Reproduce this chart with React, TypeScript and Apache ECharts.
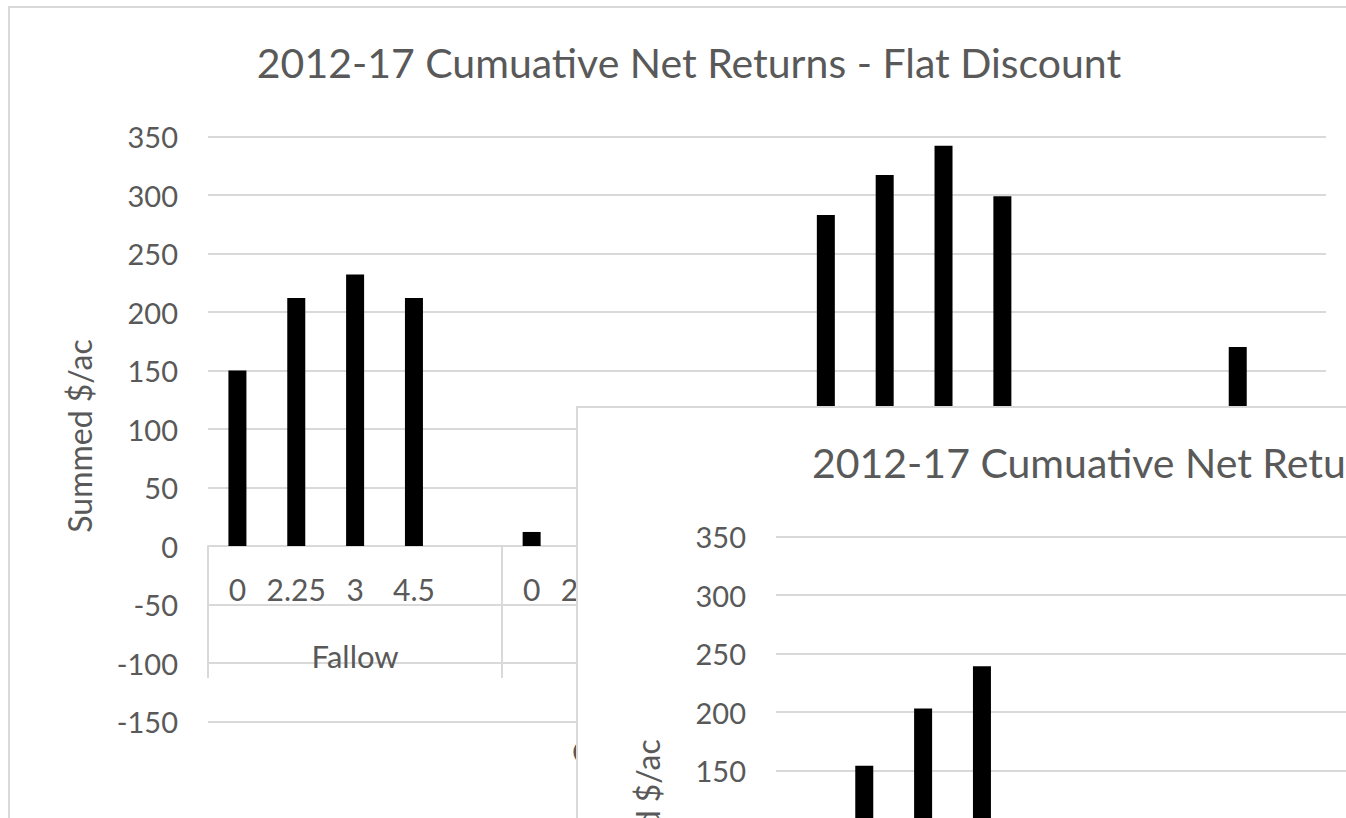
import React, { useEffect, useRef } from "react";
import * as echarts from "echarts";

// ---------- data ----------
// 19 category slots: 4 rates per group, with an empty slot between groups
const categories = [
  "0", "2.25", "3", "4.5", "",
  "0", "2.25", "3", "4.5", "",
  "0", "2.25", "3", "4.5", "",
  "0", "2.25", "3", "4.5",
];
// Only the first group name is visible; the others are hidden by the overlapping chart
const groupNames = ["Fallow"];
// Outer chart (Flat Discount). null = bar hidden behind the overlapping chart, value not readable
const flatDiscountValues = [
  150, 212, 232, 212, null,
  12, null, null, null, null,
  283, 317, 342, 299, null,
  null, null, 170, null,
];
// Overlapping chart: only three bars are visible
const insetValues = [
  null, 154, 203, 239, null,
  null, null, null, null, null,
  null, null, null, null, null,
  null, null, null, null,
];
const yMin = -150;
const yMax = 350;
const yStep = 50;
const outerTitle = "2012-17 Cumuative Net Returns - Flat Discount";
const insetTitle = "2012-17 Cumuative Net Returns";
const yAxisTitle = "Summed $/ac";
const xAxisTitleVisible = "C";
// how many category labels of the outer chart are not covered by the overlapping chart
const outerVisibleLabelCount = 7;
// lowest y tick label of the overlapping chart that is inside the page
const insetLowestVisibleTick = 150;

// ---------- style ----------
const FONT = "Lato, 'Open Sans', sans-serif";
const TEXT = "#595959";
const GRID = "#d9d9d9";
const GRID_LEFT = 208;
const GRID_TOP = 136.5;
const GRID_W = 1118;
const GRID_H = 585;

function buildOption(values: (number | null)[], inset: boolean) {
  const slot = GRID_W / categories.length;
  const zeroOffset = (GRID_H * (0 - yMin)) / (yMax - yMin);
  const graphic: any[] = [
    {
      type: "rect",
      z: -10,
      silent: true,
      shape: { x: 9, y: 7, width: 2000, height: 1500 },
      style: { fill: "#ffffff", stroke: GRID, lineWidth: 2 },
    },
    {
      type: "text",
      z: 10,
      x: inset ? 244 : 689,
      y: 62,
      style: {
        text: inset ? insetTitle : outerTitle,
        fill: TEXT,
        font: `41px ${FONT}`,
        textAlign: inset ? "left" : "center",
        textVerticalAlign: "middle",
      },
    },
    {
      type: "text",
      z: 10,
      x: 79,
      y: 436,
      rotation: Math.PI / 2,
      style: {
        text: yAxisTitle,
        fill: TEXT,
        font: `32px ${FONT}`,
        textAlign: "center",
        textVerticalAlign: "middle",
      },
    },
  ];
  if (!inset) {
    graphic.push({
      type: "text",
      z: 10,
      x: GRID_LEFT + slot * 2.5,
      y: 656,
      style: {
        text: groupNames[0],
        fill: TEXT,
        font: `31px ${FONT}`,
        textAlign: "center",
        textVerticalAlign: "middle",
      },
    });
    graphic.push({
      type: "text",
      z: 10,
      x: 572,
      y: 751,
      style: {
        text: xAxisTitleVisible,
        fill: TEXT,
        font: `31px ${FONT}`,
        textAlign: "left",
        textVerticalAlign: "middle",
      },
    });
  }
  return {
    animation: false,
    graphic,
    grid: {
      left: GRID_LEFT,
      top: GRID_TOP,
      width: GRID_W,
      height: GRID_H,
      containLabel: false,
      outerBoundsMode: "none",
    },
    xAxis: {
      type: "category",
      data: categories,
      boundaryGap: true,
      offset: -zeroOffset,
      axisLine: { onZero: false, lineStyle: { color: GRID, width: 2 } },
      axisTick: {
        show: true,
        interval: (i: number) => i % 5 === 0,
        length: 132,
        lineStyle: { color: GRID, width: 2 },
      },
      axisLabel: {
        show: !inset,
        interval: (i: number) => i < outerVisibleLabelCount,
        color: TEXT,
        fontFamily: FONT,
        fontSize: 30,
        margin: 28,
      },
      splitLine: { show: false },
    },
    yAxis: {
      type: "value",
      min: yMin,
      max: yMax,
      interval: yStep,
      axisLine: { show: false },
      axisTick: { show: false },
      axisLabel: {
        color: TEXT,
        fontFamily: FONT,
        fontSize: 29,
        margin: 30,
        formatter: (v: number) => (!inset || v >= insetLowestVisibleTick ? String(v) : ""),
      },
      splitLine: { lineStyle: { color: GRID, width: 2 } },
    },
    series: [
      {
        type: "bar",
        data: values,
        barWidth: 18,
        itemStyle: { color: "#000000" },
      },
    ],
  };
}

function ChartBox(props: { values: (number | null)[]; inset: boolean; style: React.CSSProperties }) {
  const ref = useRef<HTMLDivElement>(null);
  useEffect(() => {
    if (!ref.current) return;
    const chart = echarts.init(ref.current, undefined, { renderer: "svg" });
    chart.setOption(buildOption(props.values, props.inset) as any);
    return () => chart.dispose();
  }, []);
  return <div ref={ref} style={props.style} />;
}

export default function App() {
  return (
    <div
      style={{
        position: "fixed",
        left: 0,
        top: 0,
        width: 1346,
        height: 818,
        overflow: "hidden",
        background: "#ffffff",
      }}
    >
      <ChartBox
        values={flatDiscountValues}
        inset={false}
        style={{ position: "absolute", left: 0, top: 0, width: 1346, height: 818 }}
      />
      <ChartBox
        values={insetValues}
        inset={true}
        style={{ position: "absolute", left: 568, top: 400, width: 778, height: 418 }}
      />
    </div>
  );
}
